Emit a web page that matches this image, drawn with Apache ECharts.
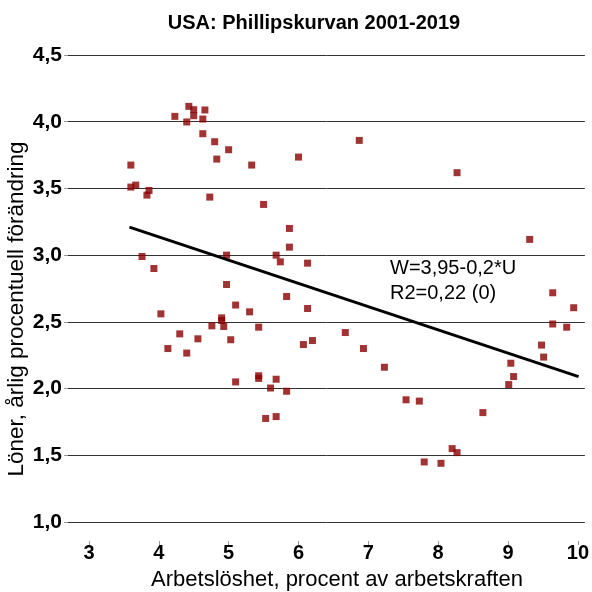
<!DOCTYPE html>
<html>
<head>
<meta charset="utf-8">
<script src="https://cdn.jsdelivr.net/npm/echarts@6/dist/echarts.min.js"></script>
<style>html,body{margin:0;padding:0;background:#fff}#c{width:592px;height:592px}</style>
</head>
<body>
<div id="c"></div>
<script>
const titleText = 'USA: Phillipskurvan 2001-2019';
const xName = 'Arbetslöshet, procent av arbetskraften';
const yName = 'Löner, årlig procentuell förändring';
const xTicks = [3, 4, 5, 6, 7, 8, 9, 10];
const yTicks = [1.0, 1.5, 2.0, 2.5, 3.0, 3.5, 4.0, 4.5];
// Unemployment (%) per quarter
const unemployment = [
  3.60, 3.60, 3.67, 3.86, 3.83, 4.23, 4.43, 4.50, 4.50, 4.40,
  4.66, 4.63, 4.63, 4.80, 5.00, 4.83, 5.33, 4.73, 5.50, 3.76,
  3.93, 4.97, 5.68, 4.97, 5.10, 5.30, 4.03, 4.90, 4.90, 4.76,
  4.93, 5.43, 4.30, 4.56, 5.03, 4.13, 4.40, 5.10, 5.43, 5.43,
  5.68, 5.60, 5.53, 5.68, 6.87, 6.00, 8.27, 5.87, 5.87, 5.74,
  6.13, 5.83, 6.13, 6.67, 6.07, 6.20, 6.93, 7.23, 5.83, 7.54,
  7.73, 8.20, 8.27, 7.80, 8.04, 9.31, 9.64, 9.94, 9.64, 9.84,
  9.48, 9.51, 9.04, 9.08, 9.01, 8.64
];
// Wage growth (% per year)
const wageGrowth = [
  3.675, 3.51, 3.525, 3.485, 3.45, 4.04, 4.115, 4.09, 4.045, 3.998,
  4.088, 4.02, 3.91, 3.85, 3.79, 3.72, 3.675, 3.435, 3.38, 2.99,
  2.90, 3.00, 3.00, 2.78, 2.626, 2.575, 2.56, 2.53, 2.51, 2.47,
  2.465, 2.46, 2.41, 2.373, 2.366, 2.30, 2.266, 2.05, 2.096, 2.076,
  2.07, 2.004, 1.776, 1.79, 3.86, 3.735, 3.618, 3.20, 3.06, 2.95,
  2.94, 2.69, 2.60, 2.42, 2.33, 2.36, 2.30, 2.16, 1.98, 1.916,
  1.906, 1.55, 1.52, 1.45, 1.44, 3.118, 2.718, 2.606, 2.484, 2.46,
  2.326, 2.236, 2.19, 2.09, 2.03, 1.82
];
// Fitted trend line endpoints as drawn
const trendX = [3.58, 10.01];
const trendY = [3.21, 2.09];
const annotation = ['W=3,95-0,2*U', 'R2=0,22 (0)'];

const chart = echarts.init(document.getElementById('c'), null, {renderer: 'canvas'});
const FONT = '"Liberation Sans", Arial, sans-serif';
const fmt = v => v.toFixed(1).replace('.', ',');

chart.setOption({
  animation: false,
  backgroundColor: '#fff',
  title: {
    text: titleText, left: 309, top: 8, textAlign: 'center',
    textStyle: {fontFamily: FONT, fontSize: 20, fontWeight: 'bold', color: '#000'}
  },
  grid: {left: 68, right: 0, top: 55, bottom: 70, containLabel: false},
  xAxis: {
    type: 'value', min: 2.7, max: 10.1, offset: 19,
    axisLine: {show: false},
    axisTick: {show: true, length: 4, lineStyle: {color: '#999'}, customValues: xTicks},
    axisLabel: {customValues: xTicks, margin: 2, fontFamily: FONT, fontSize: 20, fontWeight: 'bold', color: '#000'},
    splitLine: {show: false}
  },
  yAxis: {
    type: 'value', min: 1, max: 4.5, interval: 0.5,
    axisLine: {show: false},
    axisTick: {show: true, length: 4, lineStyle: {color: '#999'}},
    axisLabel: {formatter: fmt, margin: 6, fontFamily: FONT, fontSize: 21, fontWeight: 'bold', color: '#000'},
    splitLine: {show: true, lineStyle: {color: '#333', width: 1}}
  },
  graphic: [
    {type: 'text', x: 337, y: 580, style: {text: xName, font: '22px ' + FONT, fill: '#000', textAlign: 'center', textVerticalAlign: 'middle'}},
    {type: 'text', x: 17, y: 309, rotation: Math.PI / 2, style: {text: yName, font: '22.5px ' + FONT, fill: '#000', textAlign: 'center', textVerticalAlign: 'middle'}},
    {type: 'text', x: 390, y: 268, style: {text: annotation[0], font: '20px ' + FONT, fill: '#000', textAlign: 'left', textVerticalAlign: 'middle'}},
    {type: 'text', x: 390, y: 293, style: {text: annotation[1], font: '20px ' + FONT, fill: '#000', textAlign: 'left', textVerticalAlign: 'middle'}}
  ],
  series: [
    {
      type: 'scatter', symbol: 'rect', symbolSize: 7,
      itemStyle: {color: '#8b0000'},
      data: unemployment.map((x, i) => [x, wageGrowth[i]]),
      z: 3
    },
    {
      type: 'line', symbol: 'none', silent: true,
      lineStyle: {color: '#000', width: 3},
      data: trendX.map((x, i) => [x, trendY[i]]),
      z: 4
    }
  ]
});
</script>
</body>
</html>
